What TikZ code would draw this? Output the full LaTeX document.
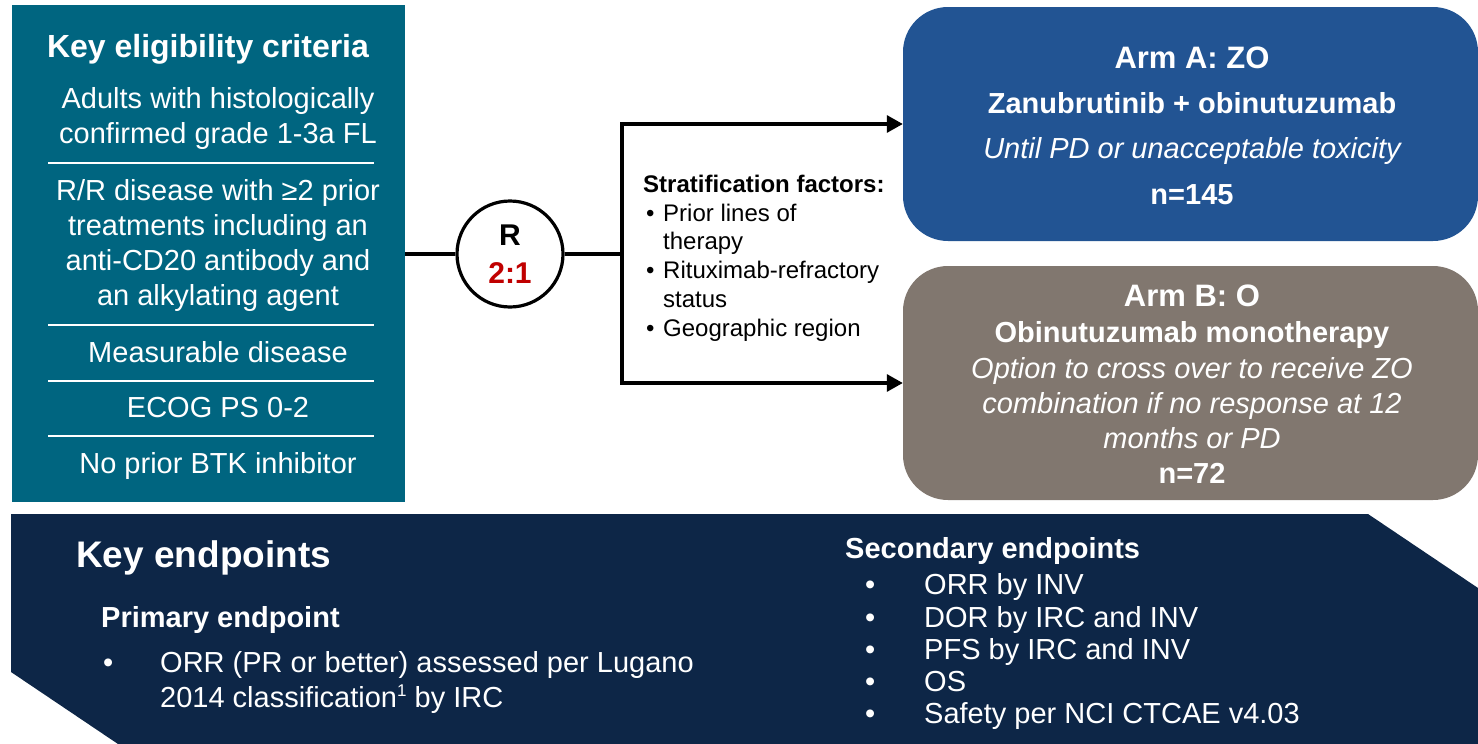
\documentclass[tikz,border=0pt]{standalone}
\usepackage{fontspec}
\setmainfont{Liberation Sans}
\usetikzlibrary{arrows.meta}

\definecolor{eligteal}{RGB}{0,101,128}
\definecolor{armblue}{RGB}{34,84,147}
\definecolor{armgray}{RGB}{129,119,111}
\definecolor{bannernavy}{RGB}{13,38,71}
\definecolor{ratiored}{RGB}{192,0,0}

\tikzset{
  every node/.style={inner sep=0pt},
  crittxt/.style={anchor=base, text=white, font=\fontsize{29}{35}\selectfont},
  sepline/.style={white, line width=2pt},
  conn/.style={black, line width=3.2pt},
  armbox/.style={rounded corners=45pt, minimum width=575pt, minimum height=234pt},
  armhead/.style={anchor=base, text=white, font=\fontsize{31}{36}\selectfont\bfseries},
  armtxt/.style={anchor=base, text=white, font=\fontsize{29}{35}\selectfont\bfseries},
  armnote/.style={anchor=base, text=white, font=\fontsize{29}{35}\selectfont\itshape},
  strattxt/.style={anchor=base west, font=\fontsize{24}{28}\selectfont},
  endtxt/.style={anchor=base west, text=white, font=\fontsize{29}{33}\selectfont},
  endhead/.style={endtxt, font=\fontsize{29}{33}\selectfont\bfseries},
}

\begin{document}
\begin{tikzpicture}[x=1pt,y=-1pt]
  \useasboundingbox (0,0) rectangle (1478,744);

  % eligibility box
  \node[fill=eligteal, minimum width=393pt, minimum height=497pt] (elig) at (208.5,253.5) {};
  \node[crittxt, font=\fontsize{32}{38}\selectfont\bfseries] (eligtitle) at (208,57) {Key eligibility criteria};
  \foreach \txt/\yy [count=\i] in {Adults with histologically/108, confirmed grade 1-3a FL/143,
      {R/R disease with ≥2 prior}/200, treatments including an/235, anti-CD20 antibody and/270,
      an alkylating agent/305, Measurable disease/362, ECOG PS 0-2/417, No prior BTK inhibitor/473}
    \node[crittxt] (crit\i) at (218,\yy) {\txt};
  \foreach \yy in {163,325,381,436}
    \draw[sepline] (48,\yy) -- (374,\yy);

  % randomisation
  \node[circle, draw, conn, minimum size=106pt, align=center,
        font=\fontsize{30}{38}\selectfont\bfseries] (rand) at (510,254) {R\\\textcolor{ratiored}{2:1}};
  \coordinate (split) at (622,254);

  % arms
  \node[armbox, fill=armblue] (armA) at (1190.5,124) {};
  \node[armbox, fill=armgray] (armB) at (1190.5,383) {};

  \draw[conn] (elig.east |- rand.west) -- (rand.west);
  \draw[conn] (rand.east) -- (split);
  \draw[conn, {Triangle[length=16pt,width=17pt]}-{Triangle[length=16pt,width=17pt]}]
    (armA.west) -| (split) |- (armB.west);

  \node[armhead] (armAhead) at (1192,68) {Arm A: ZO};
  \node[armtxt]  (armAdrug) at (1192,113) {Zanubrutinib + obinutuzumab};
  \node[armnote] (armAnote) at (1192,158) {Until PD or unacceptable toxicity};
  \node[armtxt]  (armAn)    at (1192,204) {n=145};

  \node[armhead] (armBhead) at (1192,306) {Arm B: O};
  \node[armtxt]  (armBdrug) at (1192,342) {Obinutuzumab monotherapy};
  \node[armnote] (armBnote1) at (1192,378) {Option to cross over to receive ZO};
  \node[armnote] (armBnote2) at (1192,413) {combination if no response at 12};
  \node[armnote] (armBnote3) at (1192,448) {months or PD};
  \node[armtxt]  (armBn)    at (1192,483) {n=72};

  % stratification factors
  \node[strattxt, font=\fontsize{24}{28}\selectfont\bfseries] (strathead) at (643,192) {Stratification factors:};
  \foreach \yy [count=\i] in {221,278,336}
    \node[strattxt] (stratbul\i) at (646,\yy) {\textbullet};
  \foreach \txt/\yy [count=\i] in {Prior lines of/221, therapy/249, Rituximab-refractory/278,
      status/307, Geographic region/336}
    \node[strattxt] (strat\i) at (663,\yy) {\txt};

  % endpoints banner
  \fill[bannernavy] (11,514) -- (1368,514) -- (1478,588) -- (1478,744) -- (118,744) -- (11,672) -- cycle;
  \node[endtxt, font=\fontsize{37}{40}\selectfont\bfseries] (keyend) at (76,567) {Key endpoints};
  \node[endhead] (primhead) at (101,627) {Primary endpoint};
  \node[endtxt] (primbul) at (103,672) {\textbullet};
  \node[endtxt] (prim1) at (160,672) {ORR (PR or better) assessed per Lugano};
  \node[endtxt] (prim2) at (160,707) {2014 classification\raisebox{11pt}{\fontsize{17}{17}\selectfont 1} by IRC};

  \node[endhead] (sechead) at (845,558) {Secondary endpoints};
  \foreach \txt/\yy [count=\i] in {ORR by INV/594, DOR by IRC and INV/627, PFS by IRC and INV/659,
      OS/691, Safety per NCI CTCAE v4.03/723} {
    \node[endtxt] (secbul\i) at (865,\yy) {\textbullet};
    \node[endtxt] (sec\i) at (924,\yy) {\txt};
  }
\end{tikzpicture}
\end{document}
